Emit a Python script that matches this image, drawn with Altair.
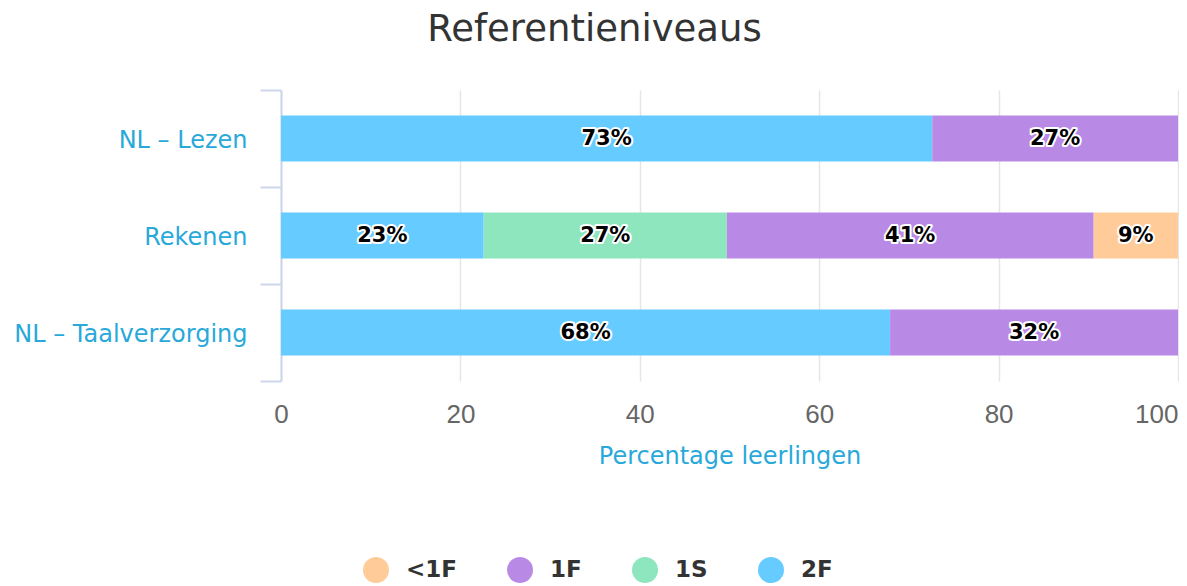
import altair as alt
import pandas as pd

categories = ["NL – Lezen", "Rekenen", "NL – Taalverzorging"]
levels = ["<1F", "1F", "1S", "2F"]
level_colors = ["#ffcc99", "#b98ae5", "#8de6bd", "#66ccff"]
stack_rank = {"2F": 0, "1S": 1, "1F": 2, "<1F": 3}

values_2F = [72.6, 22.6, 67.9]
values_1S = [0.0, 27.1, 0.0]
values_1F = [27.4, 40.9, 32.1]
values_lt1F = [0.0, 9.4, 0.0]

x_ticks = [0, 20, 40, 60, 80, 100]

series = {"2F": values_2F, "1S": values_1S, "1F": values_1F, "<1F": values_lt1F}
rows = []
for lvl, vals in series.items():
    for cat, v in zip(categories, vals):
        if v > 0:
            rows.append({"category": cat, "level": lvl, "value": v,
                         "rank": stack_rank[lvl], "label": f"{round(v)}%"})
df = pd.DataFrame(rows)

label_blue = "#29a8da"
font = "DejaVu Sans"

base = alt.Chart(df).transform_stack(
    stack="value", groupby=["category"], as_=["x0", "x1"],
    sort=[alt.SortField("rank", order="ascending")]
).transform_calculate(mid="(datum.x0 + datum.x1) / 2")

y_enc = alt.Y("category:N", sort=categories,
              scale=alt.Scale(paddingInner=0, paddingOuter=0),
              axis=alt.Axis(title=None, tickBand="extent", tickSize=21,
                            tickColor="#ccd6eb", tickWidth=2,
                            domainColor="#ccd6eb", domainWidth=2,
                            labelPadding=13, labelFont=font, labelFontSize=24,
                            labelColor=label_blue, grid=False, labelLimit=400,
                            labelOffset=2))

bars = base.mark_bar(size=46).encode(
    x=alt.X("x0:Q", scale=alt.Scale(domain=[0, 100], nice=False),
            axis=alt.Axis(values=x_ticks, grid=True, gridColor="#e6e6e6", gridWidth=1.5,
                          ticks=False, domain=False,
                          labelFont="Liberation Sans", labelFontSize=26, labelColor="#666666",
                          labelPadding=20,
                          labelAlign={"condition": {"test": "datum.value === 100", "value": "right"},
                                      "value": "center"},
                          title="Percentage leerlingen", titleFont=font, titleFontSize=24,
                          titleFontWeight="normal", titleColor=label_blue, titlePadding=17)),
    x2="x1:Q",
    y=y_enc,
    color=alt.Color("level:N", scale=alt.Scale(domain=levels, range=level_colors),
                    legend=alt.Legend(orient="none", legendX=82, legendY=467,
                                      direction="horizontal", title=None,
                                      symbolType="circle", symbolSize=676,
                                      symbolStrokeWidth=0, symbolOpacity=1,
                                      labelFont=font, labelFontSize=23,
                                      labelFontWeight="bold", labelColor="#333333",
                                      labelOffset=17, columnPadding=50, padding=0)),
)

outline = base.mark_text(font=font, fontSize=21, fontWeight="bold",
                         fill="white", stroke="white", strokeWidth=4,
                         strokeJoin="round", baseline="middle").encode(
    x="mid:Q", y=alt.Y("category:N", sort=categories), text="label:N")

labels = base.mark_text(font=font, fontSize=21, fontWeight="bold",
                        fill="black", baseline="middle").encode(
    x="mid:Q", y=alt.Y("category:N", sort=categories), text="label:N")

chart = alt.layer(bars, outline, labels).properties(
    width=897, height=291,
    autosize="none",
    padding={"left": 273, "top": 82, "right": 1, "bottom": 205},
    title=alt.TitleParams("Referentieniveaus", font=font, fontSize=37,
                          fontWeight="normal", color="#333333",
                          anchor="middle", offset=29, dx=-135),
).configure_view(strokeWidth=0)

chart.save("out.html", embed_options={"renderer": "svg", "actions": False})
